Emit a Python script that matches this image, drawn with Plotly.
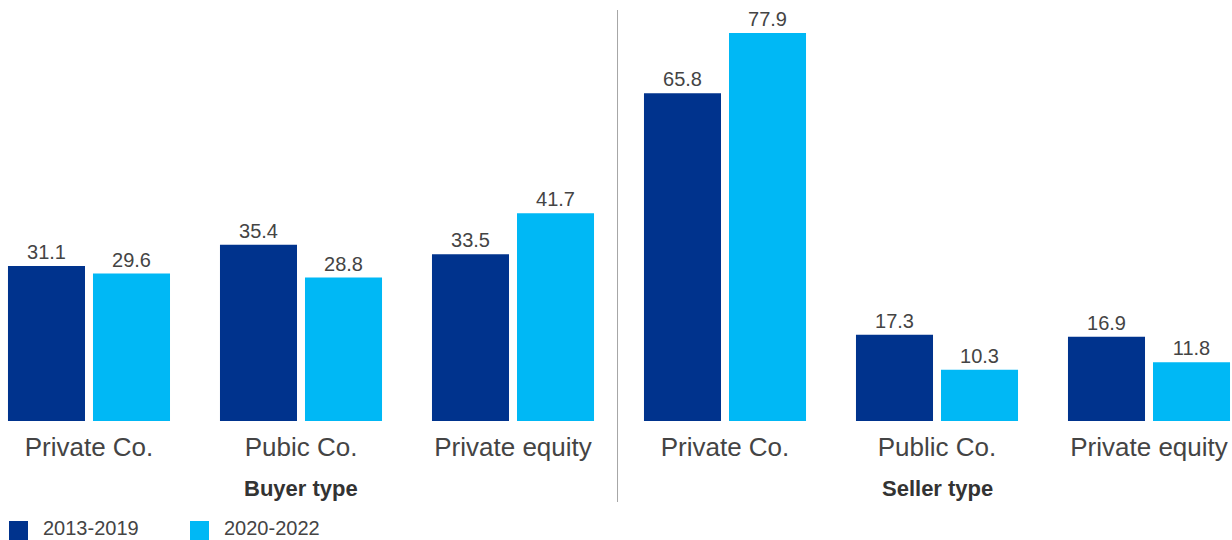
import plotly.graph_objects as go

categories = ["Private Co.", "Pubic Co.", "Private equity", "Private Co.", "Public Co.", "Private equity"]
series_names = ["2013-2019", "2020-2022"]
values_2013_2019 = [31.1, 35.4, 33.5, 65.8, 17.3, 16.9]
values_2020_2022 = [29.6, 28.8, 41.7, 77.9, 10.3, 11.8]
group_labels = ["Buyer type", "Seller type"]
group_centers = [1, 4]

colors = ["#00338D", "#00B8F5"]
x = list(range(len(categories)))
FONT = "Liberation Sans, Arial, sans-serif"

fig = go.Figure()
for name, vals, col in zip(series_names, [values_2013_2019, values_2020_2022], colors):
    fig.add_trace(go.Bar(
        x=x, y=vals, name=name, marker=dict(color=col, line=dict(width=0)),
        text=[f"{v:.1f}" for v in vals], textposition="outside",
        textfont=dict(family=FONT, size=20, color="#444444"),
        cliponaxis=False, showlegend=False,
    ))

W, PT, PB = 1232, 22, 119
PH = 540 - PT - PB
def py(p):
    return (540 - PB - p) / PH

shapes = [dict(type="line", xref="x", yref="paper", x0=2.493, x1=2.493,
               y0=py(10), y1=py(502), line=dict(color="#A6A6A6", width=1))]
annotations = []
for lbl, cx in zip(group_labels, group_centers):
    annotations.append(dict(x=cx, y=py(488), xref="x", yref="paper", text=f"<b>{lbl}</b>",
                            showarrow=False, font=dict(family=FONT, size=22, color="#333333"),
                            xanchor="center", yanchor="middle"))
legend_px = [9, 190]
for name, col, lx in zip(series_names, colors, legend_px):
    shapes.append(dict(type="rect", xref="paper", yref="paper", x0=lx / W, x1=(lx + 19) / W,
                       y0=py(521), y1=py(541), fillcolor=col, line=dict(width=0)))
    annotations.append(dict(x=(lx + 32) / W, y=py(528), xref="paper", yref="paper", text=name,
                            showarrow=False, font=dict(family=FONT, size=20, color="#444444"),
                            xanchor="left", yanchor="middle"))

fig.update_layout(
    width=1232, height=540, margin=dict(l=0, r=0, t=PT, b=PB),
    barmode="group", bargap=0.198, bargroupgap=0.094,
    plot_bgcolor="white", paper_bgcolor="white",
    shapes=shapes, annotations=annotations,
    xaxis=dict(range=[-0.4198, 5.3915], tickvals=x, ticktext=categories, showgrid=False,
               zeroline=False, showline=False, ticks="", ticklabelstandoff=8,
               tickfont=dict(family=FONT, size=26, color="#444444")),
    yaxis=dict(range=[0, 80.11], visible=False, showgrid=False, zeroline=False),
)
fig.write_html("out.html")
